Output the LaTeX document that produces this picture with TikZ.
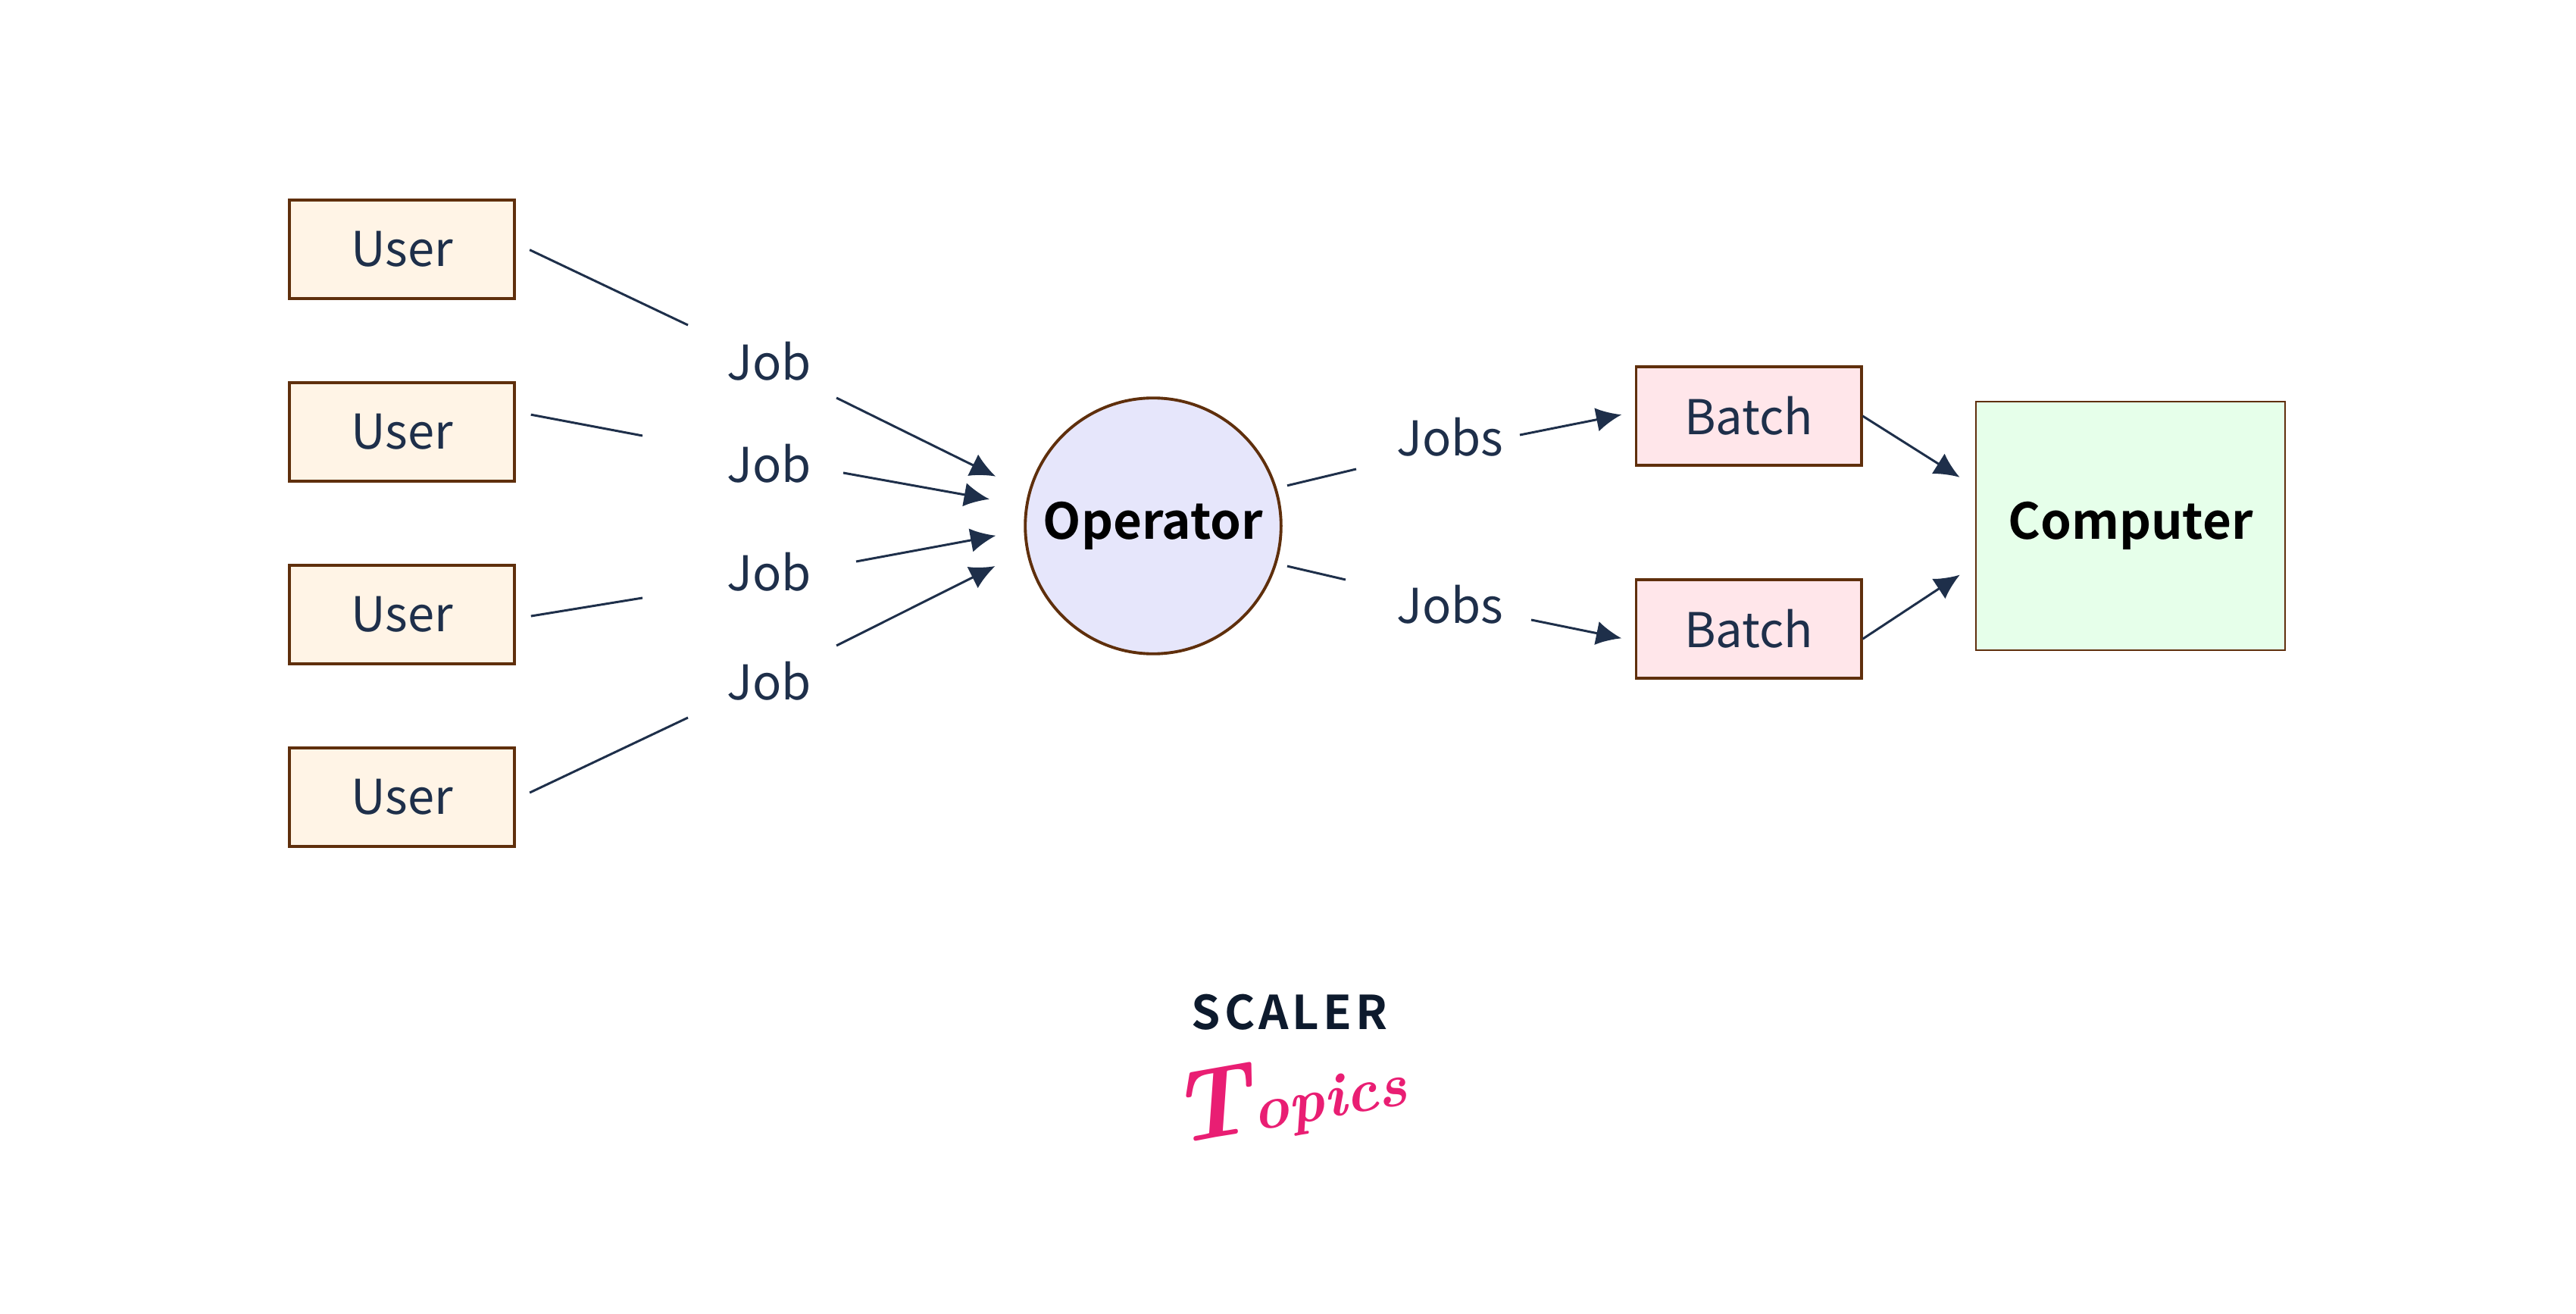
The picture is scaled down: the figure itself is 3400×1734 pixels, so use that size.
\documentclass[tikz,border=0pt]{standalone}
\usepackage{fontspec}
\setmainfont{Noto Sans CJK SC}[BoldFont={Noto Sans CJK SC Bold}]
\newfontfamily\logofont{Noto Sans CJK SC Bold}[LetterSpace=8]
\newfontfamily\pinkfont{Latin Modern Roman}
\usetikzlibrary{arrows.meta}
\definecolor{inkblue}{HTML}{1E2F4A}
\definecolor{boxbrown}{HTML}{5F2F0C}
\definecolor{userfill}{HTML}{FFF4E6}
\definecolor{opfill}{HTML}{E6E6FB}
\definecolor{batchfill}{HTML}{FFE6EA}
\definecolor{compfill}{HTML}{E6FFEA}
\definecolor{logoblue}{HTML}{0D1A2D}
\definecolor{logopink}{HTML}{E91E73}

\begin{document}
\begin{tikzpicture}[x=0.01cm,y=-0.01cm,line width=0.85pt,draw=inkblue]
    \tikzstyle{box}=[draw=boxbrown,line width=1.1pt,minimum width=84.5pt,minimum height=37pt,inner sep=0pt,text=inkblue,font=\fontsize{18}{20}\selectfont]
    \tikzstyle{lbl}=[inner sep=0pt,text=inkblue,font=\fontsize{18}{20}\selectfont]
    \tikzstyle{wire}=[draw=inkblue]
    \tikzstyle{arrow}=[draw=inkblue,-{Latex[length=9.5pt,width=9pt]}]
    \useasboundingbox (0,0) rectangle (3400,1734);

    % users and the job labels
    \foreach \num/\y/\jy in {1/329/477, 2/570/612, 3/811/755, 4/1052/899} {
        \node[box,fill=userfill] (U-\num) at (530.5,\y) {User};
        \node[lbl] (J-\num) at (1015,\jy) {Job};
    }

    \node[circle,draw=boxbrown,fill=opfill,line width=1.1pt,minimum size=96pt,inner sep=0pt,font=\fontsize{18.6}{20}\selectfont\bfseries,text=black] (V-op) at (1522,694) {Operator};

    \node[lbl] (J-5) at (1914,577) {Jobs};
    \node[lbl] (J-6) at (1914,798) {Jobs};

    \node[box,fill=batchfill] (B-1) at (2308,549) {Batch};
    \node[box,fill=batchfill] (B-2) at (2308,830) {Batch};

    \node[draw=boxbrown,fill=compfill,line width=0.6pt,minimum width=115.8pt,minimum height=93.5pt,inner sep=0pt,font=\fontsize{18.6}{20}\selectfont\bfseries,text=black] (C) at (2812,694) {Computer};

    % free ends, where the lines stop short of the labels
    \coordinate (a-1) at (908,429);  \coordinate (b-1) at (1104,525);
    \coordinate (a-2) at (848,575);  \coordinate (b-2) at (1113,624);
    \coordinate (a-3) at (848,789);  \coordinate (b-3) at (1130,741);
    \coordinate (a-4) at (908,947);  \coordinate (b-4) at (1104,852);
    \coordinate (a-5) at (1790,619); \coordinate (b-5) at (2006,574);
    \coordinate (a-6) at (1776,765); \coordinate (b-6) at (2021,818);

    \foreach \num/\from/\to/\gap in {1/3.4/165/13.6, 2/10/171.5/13.7, 3/-2/182.7/10.7, 4/-1/191.6/13} {
        \draw[wire,shorten <=5.7pt] (U-\num.\from) -- (a-\num);
        \draw[arrow,shorten >=\gap pt] (b-\num) -- (V-op.\to);
    }

    \draw[wire,shorten <=4pt] (V-op.17) -- (a-5);
    \draw[wire,shorten <=4pt] (V-op.-17) -- (a-6);
    \draw[arrow,shorten >=5pt] (b-5) -- (B-1.178);
    \draw[arrow,shorten >=5pt] (b-6) -- (B-2.186.8);

    \draw[arrow,shorten >=7pt] (B-1.east) -- (C.166.6);
    \draw[arrow,shorten >=7pt] (B-2.-5.3) -- (C.194.9);

    % logo
    \node[inner sep=0pt,text=logoblue,font=\fontsize{17.5}{20}\selectfont\logofont] (L-1) at (1702,1336) {SCALER};
    \node[inner sep=0pt,text=logopink,rotate=10,font=\fontsize{23}{28}\selectfont\pinkfont\bfseries\itshape] (L-2) at (1700,1447) {{\fontsize{38}{42}\selectfont T}opics};
\end{tikzpicture}
\end{document}
